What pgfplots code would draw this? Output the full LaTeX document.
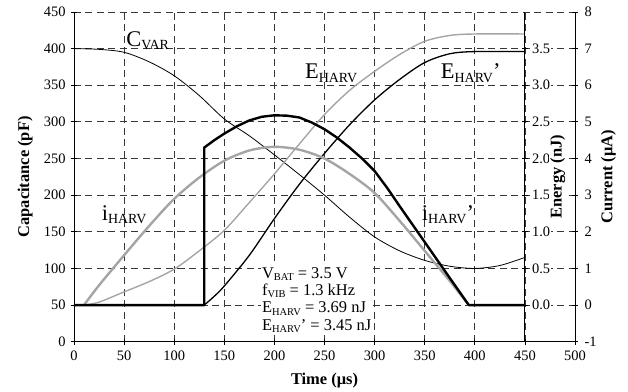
\documentclass[border=0pt]{standalone}
\usepackage{fontspec}
\setmainfont{Liberation Serif}
\usepackage{pgfplots}
\pgfplotsset{compat=1.18}
\definecolor{lg}{RGB}{165,165,165}
\definecolor{gridc}{RGB}{55,55,55}
\newcommand{\sbs}[2]{\raisebox{-0.15em}{\fontsize{#1}{#1}\selectfont #2}}
\begin{document}
\begin{tikzpicture}
\useasboundingbox (-74bp,-50.3bp) rectangle (554bp,341.7bp);
\pgfplotsset{
  common/.style={scale only axis, height=329.7bp, at={(0,0)}, anchor=south west,
    tick align=center, major tick length=6bp,
    every tick/.style={black, line width=0.8bp},
    tick label style={font=\fontsize{14.5}{14.5}\selectfont},
    /pgf/number format/assume math mode=true,
    label style={font=\fontsize{16.5}{16.5}\selectfont\bfseries},
    axis line style={line width=0.9bp, black, -},
  }
}
% main axis
\begin{axis}[common, width=501bp,
  xmin=0, xmax=500, ymin=0, ymax=450,
  axis x line*=bottom, axis y line*=left,
  xtick={0,50,...,500}, ytick={0,50,...,450},
  grid=major, major grid style={gridc, line width=0.8bp, dash pattern=on 7bp off 4.5bp},
  xlabel={Time (μs)}, ylabel={Capacitance (pF)},
  xlabel style={at={(axis description cs:0.5,0)}, anchor=base, yshift=-43bp},
  ylabel style={at={(axis description cs:-0.0898,0.5)}, anchor=base},
  xticklabel style={yshift=-3bp},
  yticklabel style={xshift=-2bp},
]
% C_VAR
\addplot[black, line width=0.8bp, smooth] coordinates {
(0,400) (25,399) (50,395) (75,382) (100,363) (125,336) (150,304) (175,281) (200,255) (225,228) (250,200) (275,170) (300,143) (325,124) (350,111) (375,103) (400,100) (425,104) (450,115)};
% E_HARV (thin gray)
\addplot[lg, line width=1.4bp, smooth] coordinates {
(10,50) (25,54) (50,68) (75,82) (100,99) (125,124) (150,152) (175,190) (200,229) (225,270) (250,310) (275,343) (300,369) (325,392) (350,410) (375,418) (400,420) (450,420)};
% E_HARV' (thin black)
\addplot[black, line width=1.3bp, smooth] coordinates {
(130,50) (140,62) (150,76) (175,118) (200,168) (225,215) (250,257) (275,296) (300,330) (325,358) (350,381) (375,393) (400,396) (450,396)};
% i_HARV (thick gray)
\addplot[lg, line width=2.4bp, smooth] coordinates {
(10,50) (25,77) (50,118) (75,158) (100,195) (125,224) (150,247) (175,261) (200,266) (225,262) (250,250) (275,229) (300,203) (325,165) (350,124) (375,83) (394,50)};
% i_HARV' (thick black)
\addplot[black, line width=2.4bp, line join=round] coordinates {
(0,50) (130,50) (130,265) (140,275) (150,284) (162.5,294) (175,302) (187.5,307) (200,309) (212.5,308.5) (225,306) (237.5,299) (250,290) (262.5,278.5) (275,265) (287.5,250) (300,233) (312.5,210) (325,185) (350,136) (375,87) (394,50) (450,50)};
% labels
\node[anchor=base west, inner sep=0] at (axis cs:52,403.3) {\fontsize{22.5}{22.5}\selectfont C\sbs{14}{VAR}};
\node[anchor=base west, inner sep=0] at (axis cs:230.5,358.7) {\fontsize{22.5}{22.5}\selectfont E\sbs{14}{HARV}};
\node[anchor=base west, inner sep=0] at (axis cs:366,358.7) {\fontsize{22.5}{22.5}\selectfont E\sbs{14}{HARV}’};
\node[anchor=base west, inner sep=0] at (axis cs:27.6,165.3) {\fontsize{22.5}{22.5}\selectfont i\sbs{14}{HARV}};
\node[anchor=base west, inner sep=0] at (axis cs:347,165.3) {\fontsize{22.5}{22.5}\selectfont i\sbs{14}{HARV}’};
\node[anchor=north west, fill=white, inner sep=1.5bp, align=left, font=\fontsize{16.5}{17.4}\selectfont]
  at (axis cs:186,104) {V\sbs{10.5}{BAT} = 3.5 V\\ f\sbs{10.5}{VIB} = 1.3 kHz\\ E\sbs{10.5}{HARV} = 3.69 nJ\\ E\sbs{10.5}{HARV}’ = 3.45 nJ};
\end{axis}
% energy axis
\begin{axis}[common, width=450.9bp,
  xmin=0, xmax=450, ymin=-0.5, ymax=4,
  axis x line=none, axis y line*=right,
  ytick={0,0.5,...,3.5},
  yticklabel style={fill=white, inner sep=1bp, xshift=3bp,
    /pgf/number format/.cd, fixed, fixed zerofill, precision=1},
  ylabel={Energy (nJ)},
  ylabel style={at={(axis description cs:1.0816,0.5)}, anchor=base, fill=white, inner sep=1bp},
]
\end{axis}
% current axis
\begin{axis}[common, width=501bp,
  xmin=0, xmax=500, ymin=-1, ymax=8,
  axis x line=none, axis y line*=right,
  ytick={-1,0,...,8},
  yticklabel style={xshift=3bp},
  ylabel={Current (μA)},
  ylabel style={at={(axis description cs:1.0745,0.5)}, anchor=base},
]
\end{axis}
\end{tikzpicture}
\end{document}
